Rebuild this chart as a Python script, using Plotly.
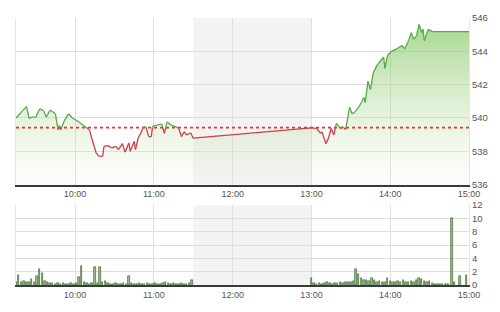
import plotly.graph_objects as go
from plotly.subplots import make_subplots

# ---------------- data ----------------
price_times = [
    "09:15", "09:20", "09:23", "09:25", "09:27", "09:30", "09:33", "09:36", "09:38", "09:41",
    "09:45", "09:47", "09:48", "09:49", "09:52", "09:55", "09:58", "10:03", "10:07", "10:09",
    "10:11", "10:13", "10:16", "10:18", "10:21", "10:22", "10:25", "10:28", "10:31", "10:33",
    "10:36", "10:38", "10:41", "10:42", "10:45", "10:46", "10:48", "10:50", "10:52", "10:54",
    "10:56", "10:58", "10:59", "11:02", "11:06", "11:08", "11:10", "11:13", "11:16", "11:19",
    "11:21", "11:23", "11:25", "11:28", "11:30",
    "13:00", "13:04", "13:07", "13:08", "13:11", "13:13", "13:15", "13:17", "13:19", "13:22",
    "13:24", "13:26", "13:28", "13:29", "13:31", "13:33", "13:36", "13:38", "13:40", "13:41",
    "13:43", "13:45", "13:47", "13:50", "13:52", "13:55", "13:56", "13:58", "14:01", "14:05",
    "14:09", "14:11", "14:14", "14:16", "14:18", "14:20", "14:22", "14:24", "14:25", "14:26",
    "14:29", "14:31", "14:33", "15:00",
]
price_values = [
    540.00, 540.44, 540.68, 539.98, 540.05, 540.05, 540.54, 540.44, 540.05, 540.48,
    540.25, 539.30, 539.55, 539.30, 539.86, 540.25, 540.00, 539.76, 539.50, 539.41,
    539.27, 538.69, 537.91, 537.71, 537.70, 538.30, 538.34, 538.20, 538.30, 538.10,
    538.46, 537.95, 538.50, 538.00, 538.59, 538.10, 538.79, 539.08, 539.47, 539.47,
    538.88, 538.88, 539.50, 539.57, 539.63, 539.08, 539.76, 539.57, 539.50, 539.37,
    538.88, 539.17, 538.98, 539.11, 538.79,
    539.40, 539.37, 539.08, 539.17, 538.46, 538.79, 539.37, 538.98, 539.67, 539.37,
    539.47, 539.31, 540.15, 540.64, 540.25, 540.35, 540.64, 540.93, 541.22, 540.93,
    542.20, 541.71, 542.68, 543.17, 543.37, 543.66, 542.98, 543.76, 544.00, 544.15,
    544.35, 544.15, 544.64, 545.12, 544.73, 544.93, 545.61, 545.12, 545.32, 544.64,
    545.32, 545.22, 545.18, 545.18,
]
ref_close = 539.42

# volume, one bar every 2 minutes
vol_am_start = "09:15"
vol_am = [
    0.5, 1.5, 0.4, 0.6, 0.5, 0.4, 0.9, 0.5, 1.3, 2.4,
    1.8, 0.6, 0.4, 0.3, 0.3, 0.2, 0.3, 0.2, 0.3, 0.2,
    0.2, 0.3, 0.2, 0.3, 1.2, 2.9, 0.4, 0.3, 0.2, 0.3,
    2.65, 0.3, 2.65, 0.5, 0.6, 0.3, 0.2, 0.2, 0.3, 0.2,
    0.2, 0.3, 0.2, 1.4, 0.3, 0.2, 0.2, 0.3, 0.2, 0.2,
    0.3, 0.2, 0.2, 0.3, 0.2, 0.2, 0.3, 0.4, 0.3, 0.2,
    0.3, 0.2, 0.2, 0.3, 0.2, 0.2, 0.3, 0.8,
]
vol_pm_start = "13:00"
vol_pm = [
    1.0, 0.3, 0.2, 0.3, 0.2, 0.3, 0.4, 0.3, 0.2, 0.3,
    0.3, 0.4, 0.3, 0.4, 0.5, 0.4, 0.6, 2.45, 1.7, 1.1,
    0.7, 0.8, 0.6, 1.0, 0.7, 0.5, 0.6, 0.4, 0.5, 1.0,
    0.6, 0.4, 0.5, 0.6, 0.5, 0.7, 0.5, 0.4, 0.6, 0.5,
    0.7, 1.0, 0.9, 0.6, 0.5, 0.6, 0.3, 0.2, 0.2, 0.2,
    0.1, 0.1, 0.1,
]
vol_close_times = ["14:47", "14:49", "14:53", "14:58"]
vol_close = [10.1, 0.5, 1.4, 1.5]

x_tick_labels = ["10:00", "11:00", "12:00", "13:00", "14:00", "15:00"]
price_ticks = [536, 538, 540, 542, 544, 546]
vol_ticks = [0, 2, 4, 6, 8, 10, 12]
lunch = ("11:30", "13:00")
x_start, x_end = "09:15", "15:00"


def to_min(t):
    h, m = t.split(":")
    return int(h) * 60 + int(m)


px = [to_min(t) for t in price_times]

# split the line into parts above (green) and below (red) the reference
gx, gy, rx, ry = [], [], [], []
for i in range(len(px) - 1):
    x0, y0, x1, y1 = px[i], price_values[i], px[i + 1], price_values[i + 1]
    s0, s1 = y0 >= ref_close, y1 >= ref_close
    if s0 == s1:
        tx, ty = (gx, gy) if s0 else (rx, ry)
        tx += [x0, x1, None]
        ty += [y0, y1, None]
    else:
        f = (ref_close - y0) / (y1 - y0)
        xc = x0 + f * (x1 - x0)
        a = (gx, gy) if s0 else (rx, ry)
        b = (gx, gy) if s1 else (rx, ry)
        a[0].extend([x0, xc, None]); a[1].extend([y0, ref_close, None])
        b[0].extend([xc, x1, None]); b[1].extend([ref_close, y1, None])

vx = ([to_min(vol_am_start) + 2 * i for i in range(len(vol_am))]
      + [to_min(vol_pm_start) + 2 * i for i in range(len(vol_pm))]
      + [to_min(t) for t in vol_close_times])
vy = vol_am + vol_pm + vol_close

fig = make_subplots(rows=2, cols=1)

fig.add_trace(go.Scatter(
    x=px, y=price_values, mode="lines", line=dict(width=0),
    fill="tozeroy",
    fillgradient=dict(type="vertical", start=536, stop=546,
                      colorscale=[[0, "rgba(235,245,228,0.15)"],
                                  [1, "rgba(125,196,88,0.72)"]]),
    hoverinfo="skip", showlegend=False), row=1, col=1)
fig.add_trace(go.Scatter(
    x=[to_min(x_start), to_min(x_end)], y=[ref_close, ref_close], mode="lines",
    line=dict(color="#e3342f", width=1.6, dash="dot"), showlegend=False), row=1, col=1)
fig.add_trace(go.Scatter(x=gx, y=gy, mode="lines",
                         line=dict(color="#5aa84a", width=1.3), showlegend=False), row=1, col=1)
fig.add_trace(go.Scatter(x=rx, y=ry, mode="lines",
                         line=dict(color="#cf3d4c", width=1.3), showlegend=False), row=1, col=1)

fig.add_trace(go.Bar(x=vx, y=vy, width=1.1,
                     marker=dict(color="#a3bb98", line=dict(color="#3f6c33", width=0.7)),
                     showlegend=False), row=2, col=1)

for r in (1, 2):
    fig.add_vrect(x0=to_min(lunch[0]), x1=to_min(lunch[1]), fillcolor="#f3f3f3",
                  line_width=0, layer="below", row=r, col=1)

tickvals = [to_min(t) for t in x_tick_labels]
axis_font = dict(family="Liberation Sans, Arial, sans-serif", size=9, color="#555555")
for r in (1, 2):
    fig.update_xaxes(row=r, col=1, range=[to_min(x_start), to_min(x_end)],
                     tickvals=tickvals, ticktext=x_tick_labels,
                     showgrid=True, gridcolor="#dedede", gridwidth=1,
                     showline=True, linecolor="#3a3a3a", linewidth=2,
                     ticks="", tickfont=axis_font, zeroline=False)
fig.update_yaxes(row=1, col=1, range=[536, 546], tickvals=price_ticks, side="right",
                 showgrid=True, gridcolor="#dedede", zeroline=False,
                 showline=True, mirror=True, linecolor="#e6e6e6", linewidth=1,
                 ticks="", tickfont=dict(family="Liberation Sans, Arial, sans-serif", size=9.5,
                                         color="#555555"),
                 domain=[0.376, 1.0])
fig.update_yaxes(row=2, col=1, range=[0, 12], tickvals=vol_ticks, side="right",
                 showgrid=True, gridcolor="#dedede", zeroline=False,
                 showline=True, mirror=True, linecolor="#e6e6e6", linewidth=1,
                 ticks="", tickfont=dict(family="Liberation Sans, Arial, sans-serif", size=9.5,
                                         color="#555555"),
                 domain=[0.0, 0.299])

fig.update_layout(
    width=500, height=312,
    margin=dict(l=16, r=28, t=15, b=23),
    paper_bgcolor="white", plot_bgcolor="white",
    bargap=0, showlegend=False,
)

fig.write_html("out.html")
